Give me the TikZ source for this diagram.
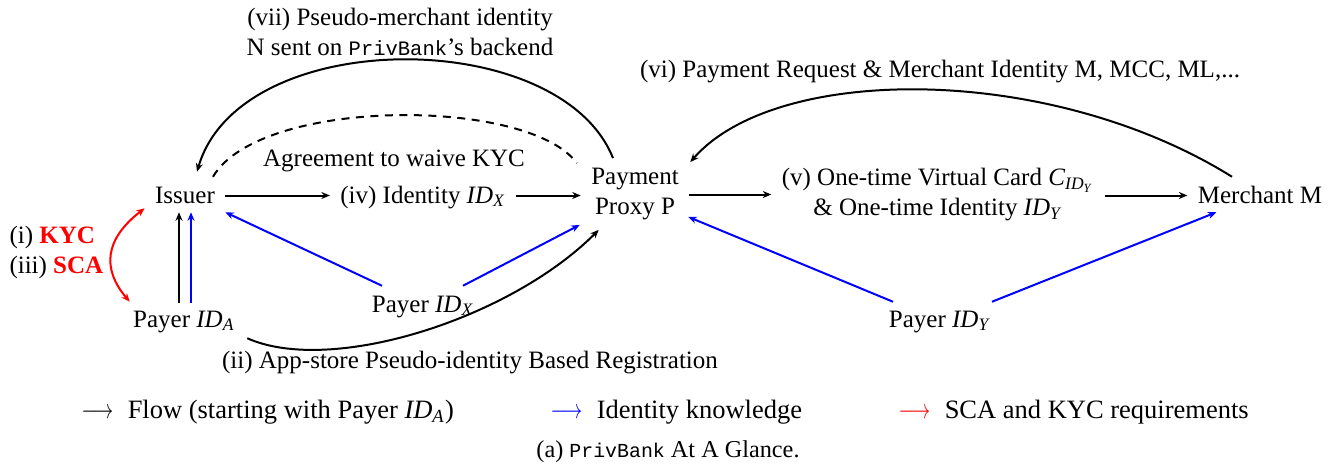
\documentclass[tikz,border=0pt]{standalone}
\usepackage{graphicx}
\usepackage{fontspec}
\setmainfont{Liberation Serif}
\setmonofont[Scale=0.82]{Liberation Mono}
\usetikzlibrary{arrows.meta,calc}

\newcommand{\pid}[1]{\textit{ID}\textsubscript{\textit{#1}}}
\newcommand{\pbank}{\texttt{PrivBank}}
\newcommand{\keyarrow}[1]{\textcolor{#1}{\scalebox{0.72}[1]{$\longrightarrow$}}\hspace{5.8pt}}

\tikzset{
  ent/.style={inner xsep=4pt, inner ysep=1.5pt, text height=8pt, text depth=2pt, anchor=base},
  stack/.style={align=center, inner sep=4pt},
  lbl/.style={inner sep=0pt},
  keyitem/.style={lbl, anchor=base west, font=\fontsize{10.6}{12}\selectfont},
  tip/.tip={Stealth[length=3.4pt,width=2.8pt]},
  flow/.style={line width=0.8pt, -tip},
  know/.style={flow, blue},
  req/.style={line width=0.8pt, red, tip-tip},
  agree/.style={line width=0.8pt, dash pattern=on 3.2pt off 2.6pt},
}

\begin{document}
\begin{tikzpicture}[x=0.4pt, y=-0.4pt, font=\fontsize{10}{12}\selectfont]
\useasboundingbox (0,0) rectangle (1341,467);

% main entities
\node[ent] (issuer) at (185,203) {Issuer};
\node[ent] (iv) at (423,203) {(iv) Identity \pid{X}};
\node[stack] (payment) at (635,194.5) {Payment\\Proxy P};
\node[stack] (v) at (938,195) {(v) One-time Virtual Card \textit{C}\textsubscript{\pid{Y}}\\\& One-time Identity \pid{Y}};
\node[ent] (merchant) at (1260,203) {Merchant M};
\node[ent] (pA) at (184,327) {Payer \pid{A}};
\node[ent] (pX) at (423,312) {Payer \pid{X}};
\node[ent] (pY) at (940,327) {Payer \pid{Y}};

% free labels
\node[lbl, anchor=north, align=center] (lvii) at (400,8) {(vii) Pseudo-merchant identity\\N sent on \pbank's backend};
\node[lbl, anchor=base] (lvi) at (940,77) {(vi) Payment Request \& Merchant Identity M, MCC, ML,...};
\node[lbl, anchor=base] (lagree) at (394,166) {Agreement to waive KYC};
\node[lbl, anchor=base] (lii) at (470,368) {(ii) App-store Pseudo-identity Based Registration};
\node[lbl, anchor=north west, align=left] (lkyc) at (9,226) {(i) \textcolor{red}{\textbf{KYC}}\\(iii) \textcolor{red}{\textbf{SCA}}};

% legend and caption
\node[keyitem] (lg1) at (81,418) {\keyarrow{black}Flow (starting with Payer \pid{A})};
\node[keyitem] (lg2) at (550,418) {\keyarrow{blue}Identity knowledge};
\node[keyitem] (lg3) at (898,418) {\keyarrow{red}SCA and KYC requirements};
\node[lbl, anchor=base, font=\fontsize{9.7}{11}\selectfont] (cap) at (668,457) {(a) \pbank{} At A Glance.};

% straight flow
\draw[flow] (issuer.east) -- (issuer.east -| iv.west);
\draw[flow] (iv.east) -- (iv.east -| payment.west);
\draw[flow] (payment.east) -- (payment.east -| v.west);
\draw[flow] (v.east |- merchant.west) -- (merchant.west);

% payer A up to the issuer
\coordinate (ia) at ($(issuer.south)+(-6,0)$);
\coordinate (ib) at ($(issuer.south)+(6,0)$);
\draw[flow] (ia |- pA.north) -- (ia);
\draw[know] (ib |- pA.north) -- (ib);

% identity knowledge
\draw[know] ($(pX.north)+(-41,-2)$) -- (issuer.south east);
\draw[know] ($(pX.north)+(40,-2)$) -- ($(payment.south west)+(-1,-6)$);
\draw[know] ($(pY.north)+(-47,-1)$) -- ($(payment.south east)+(-1,-14)$);
\draw[know] ($(pY.north)+(52,-1)$) -- ($(merchant.south west)+(29,0)$);

% curved flows
\draw[flow] ($(payment.north)+(-22,0)$) .. controls +(-53,-133) and +(43,-147) .. ($(issuer.north)+(12,-7)$);
\draw[agree] ($(issuer.north)+(28,-2)$) .. controls +(47,-80) and +(-48,-66) .. ($(payment.north west)+(-4,5)$);
\draw[flow] ($(merchant.north)+(-28,-2)$) .. controls +(-182,-113.5) and +(86,-98.5) .. ($(payment.north east)+(1,4)$);
\draw[flow] ($(pA.south east)+(2,2)$) .. controls +(83,37) and +(-90,90) .. ($(payment.south west)+(18,-1)$);

% KYC / SCA requirement
\draw[req] ($(issuer.south west)+(0,-4)$) .. controls +(-40,31) and +(-28,-33) .. ($(pA.north west)+(7,-1)$);
\end{tikzpicture}
\end{document}
